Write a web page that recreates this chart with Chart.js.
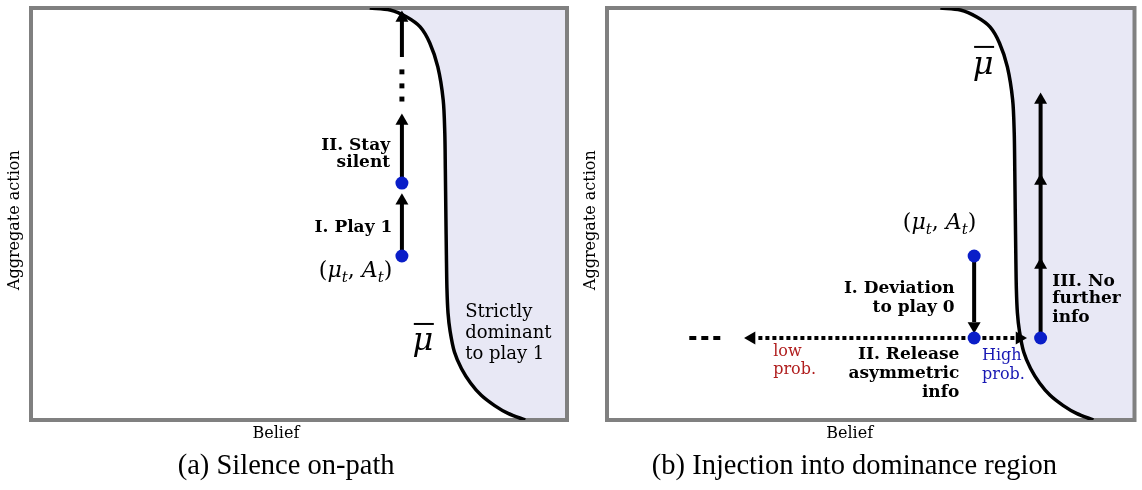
<!DOCTYPE html>
<html><head><meta charset="utf-8">
<script src="https://cdn.jsdelivr.net/npm/chart.js@4.4.0/dist/chart.umd.min.js"></script>
<style>
html,body{margin:0;padding:0;background:#fff;}
#wrap{position:relative;width:1142px;height:490px;overflow:hidden;}
canvas{position:absolute;top:0;}
#cA{left:0;} #cB{left:577px;}
</style></head><body>
<div id="wrap"><canvas id="cA" width="577" height="490"></canvas><canvas id="cB" width="565" height="490"></canvas></div>
<script>
// ---- data (belief on x, aggregate action on y, both 0..100) ----
// dominance boundary  mu-bar
const boundaryBelief = [63.2, 67.0, 70.1, 72.6, 74.4, 75.9, 76.9, 77.2, 77.3, 77.4, 77.5, 77.6, 77.8, 78.2, 79.0, 80.3, 82.0, 84.0, 86.5, 89.0, 92.2];
const boundaryAction = [100, 99.5, 97.8, 95.4, 91.5, 85.7, 77.7, 69.7, 61.0, 50.0, 40.0, 32.0, 26.0, 21.5, 16.5, 12.5, 9.0, 6.0, 3.5, 1.6, 0];

// panel (a): silence on-path
const aStateBelief = [69.2, 69.2];
const aStateAction = [39.8, 57.5];
const aShaftFrom = [39.8, 57.5, 88.1];
const aShaftTo = [53.4, 72.8, 97.6];
const aHeadAction = [53.2, 72.6, 97.6];
const aDotsAction = [84.5, 81.1, 77.9];

// panel (b): injection into dominance region
const bStateBelief = [69.6, 69.6, 82.2];
const bStateAction = [39.8, 19.9, 19.9];
const bShaftBelief = [[69.6, 69.6], [82.2, 82.2]];
const bShaftAction = [[39.8, 23.8], [19.9, 77.7]];
const bDottedBelief = [28.7, 77.5];
const bEllipsisBelief = [15.6, 21.8];
const bHeadBelief = [69.6, 78.2, 27.4, 82.2, 82.2, 82.2];
const bHeadAction = [22.8, 19.9, 19.9, 37.6, 58.0, 77.7];
const bHeadRotation = [180, 90, 270, 0, 0, 0];

// ---- styles ----
const SHADE = '#e8e8f5', FRAME = '#808080', INK = '#000000', DOT = '#0a1ec8';
const SERIF = '"DejaVu Serif"';
const zip = (xs, ys) => xs.map((x, i) => ({x, y: ys[i]}));
const boundary = zip(boundaryBelief, boundaryAction);

function baseDatasets() {
  return [
    {label: 'dominance', data: boundary.concat([{x: 100, y: 0}]), isShade: true, order: 20,
     borderWidth: 0, pointRadius: 0, fill: 'end', backgroundColor: SHADE, tension: 0.3},
    {label: 'mu-bar', data: boundary, order: 10, borderColor: INK, borderWidth: 3.5,
     pointRadius: 0, fill: false, tension: 0.3}
  ];
}
function segment(xs, ys, extra) {
  return Object.assign({data: zip(xs, ys), borderColor: INK, borderWidth: 4, pointRadius: 0,
    fill: false, tension: 0, clip: false, borderCapStyle: 'butt', order: 5}, extra || {});
}
function heads(xs, ys, rot) {
  return {data: zip(xs, ys), showLine: false, pointStyle: 'triangle', pointRadius: 7.5,
    pointRotation: rot, backgroundColor: INK, borderColor: INK, borderWidth: 0, clip: false, order: 3};
}
function states(xs, ys) {
  return {data: zip(xs, ys), showLine: false, pointStyle: 'circle', pointRadius: 6.5,
    backgroundColor: DOT, borderColor: DOT, borderWidth: 0, clip: false, order: 1};
}

// ---- text ----
const boldF = `bold 17px ${SERIF}`, regF = `18px ${SERIF}`, smallF = `16px ${SERIF}`;
function pairLabel(size) {
  return [
    {t: '(', font: `${size}px ${SERIF}`},
    {t: 'μ', font: `italic ${size}px ${SERIF}`},
    {t: 't', font: `italic ${Math.round(size * 0.68)}px ${SERIF}`, dy: 5},
    {t: ', ', font: `${size}px ${SERIF}`},
    {t: 'A', font: `italic ${size}px ${SERIF}`},
    {t: 't', font: `italic ${Math.round(size * 0.68)}px ${SERIF}`, dy: 5},
    {t: ')', font: `${size}px ${SERIF}`}
  ];
}
const aTexts = [
  {t: 'II. Stay', x: 67.0, y: 66.7, align: 'right', font: boldF},
  {t: 'silent', x: 67.0, y: 62.4, align: 'right', font: boldF},
  {t: 'I. Play 1', x: 67.4, y: 46.6, align: 'right', font: boldF},
  {rich: pairLabel(22), x: 67.4, y: 34.7, align: 'right'},
  {mubar: true, x: 73.1, y: 17.0, size: 32, bar: 26},
  {t: 'Strictly', x: 81.0, y: 26.2, align: 'left', font: regF},
  {t: 'dominant', x: 81.0, y: 21.1, align: 'left', font: regF},
  {t: 'to play 1', x: 81.0, y: 16.0, align: 'left', font: regF}
];
const bTexts = [
  {rich: pairLabel(22), x: 70.0, y: 46.4, align: 'right'},
  {t: 'I. Deviation', x: 65.9, y: 32.0, align: 'right', font: boldF},
  {t: 'to play 0', x: 65.9, y: 27.2, align: 'right', font: boldF},
  {t: 'II. Release', x: 66.8, y: 15.8, align: 'right', font: boldF},
  {t: 'asymmetric', x: 66.8, y: 11.2, align: 'right', font: boldF},
  {t: 'info', x: 66.8, y: 6.6, align: 'right', font: boldF},
  {t: 'low', x: 31.5, y: 16.5, align: 'left', font: smallF, color: '#b01e1e'},
  {t: 'prob.', x: 31.5, y: 12.1, align: 'left', font: smallF, color: '#b01e1e'},
  {t: 'High', x: 71.1, y: 15.5, align: 'left', font: smallF, color: '#1a1ab4'},
  {t: 'prob.', x: 71.1, y: 10.9, align: 'left', font: smallF, color: '#1a1ab4'},
  {t: 'III. No', x: 84.4, y: 33.7, align: 'left', font: boldF},
  {t: 'further', x: 84.4, y: 29.4, align: 'left', font: boldF},
  {t: 'info', x: 84.4, y: 24.8, align: 'left', font: boldF},
  {mubar: true, x: 71.3, y: 84.0, size: 32, bar: 27}
];

const diagramPlugin = {
  id: 'diagram',
  afterDatasetDraw(chart, args) {
    if (!chart.data.datasets[args.index].isShade) return;
    const {ctx, chartArea: a} = chart;
    ctx.save();
    ctx.strokeStyle = FRAME; ctx.lineWidth = 4;
    ctx.strokeRect(a.left, a.top, a.right - a.left, a.bottom - a.top);
    ctx.restore();
  },
  afterDraw(chart) {
    const o = chart.options.plugins.diagram;
    const {ctx, chartArea: a} = chart;
    const sx = chart.scales.x, sy = chart.scales.y;
    ctx.save();
    ctx.fillStyle = INK;
    o.texts.forEach(d => {
      const px = sx.getPixelForValue(d.x), py = sy.getPixelForValue(d.y);
      if (d.rich) {
        let w = 0;
        d.rich.forEach(s => { ctx.font = s.font; s.w = ctx.measureText(s.t).width; w += s.w; });
        let cx = d.align === 'right' ? px - w : px;
        ctx.textAlign = 'left'; ctx.textBaseline = 'alphabetic'; ctx.fillStyle = INK;
        d.rich.forEach(s => { ctx.font = s.font; ctx.fillText(s.t, cx, py + (s.dy || 0)); cx += s.w; });
      } else if (d.mubar) {
        ctx.font = `italic ${d.size}px ${SERIF}`;
        ctx.textAlign = 'center'; ctx.textBaseline = 'alphabetic'; ctx.fillStyle = INK;
        ctx.fillText('μ', px, py);
        ctx.beginPath(); ctx.lineWidth = 2; ctx.strokeStyle = INK;
        ctx.moveTo(px - 9, py - d.bar); ctx.lineTo(px + 11, py - d.bar); ctx.stroke();
      } else {
        ctx.font = d.font; ctx.fillStyle = d.color || INK;
        ctx.textAlign = d.align; ctx.textBaseline = 'middle';
        ctx.fillText(d.t, px, py);
      }
    });
    // axis titles and caption
    ctx.fillStyle = INK; ctx.textBaseline = 'middle'; ctx.textAlign = 'center';
    ctx.font = `16px ${SERIF}`;
    ctx.fillText(o.xTitle, sx.getPixelForValue(o.xTitleAt), a.bottom + 14);
    ctx.save();
    ctx.translate(a.left - 16, sy.getPixelForValue(o.yTitleAt));
    ctx.rotate(-Math.PI / 2);
    ctx.fillText(o.yTitle, 0, 0);
    ctx.restore();
    ctx.font = `28.5px "Liberation Serif"`;
    ctx.fillText(o.caption, sx.getPixelForValue(o.captionAt), a.bottom + 47);
    ctx.restore();
  }
};

function makeChart(id, datasets, padding, texts, caption, xTitleAt, captionAt) {
  return new Chart(document.getElementById(id), {
    type: 'line',
    data: {datasets},
    options: {
      responsive: false, animation: false, devicePixelRatio: 1,
      layout: {padding},
      scales: {
        x: {type: 'linear', min: 0, max: 100, display: false},
        y: {type: 'linear', min: 0, max: 100, display: false}
      },
      plugins: {
        legend: {display: false}, tooltip: {enabled: false},
        diagram: {texts, caption, xTitle: 'Belief', yTitle: 'Aggregate action',
                  xTitleAt, yTitleAt: 48.5, captionAt}
      }
    },
    plugins: [diagramPlugin]
  });
}

// panel (a)
const aSets = baseDatasets();
aShaftFrom.forEach((f, i) => aSets.push(segment([aStateBelief[0], aStateBelief[0]], [f, aShaftTo[i]])));
aSets.push(heads(aHeadAction.map(() => aStateBelief[0]), aHeadAction, aHeadAction.map(() => 0)));
aSets.push({data: zip(aDotsAction.map(() => aStateBelief[0]), aDotsAction), showLine: false,
  pointStyle: 'rect', pointRadius: 3.5, backgroundColor: INK, borderWidth: 0, clip: false, order: 4});
aSets.push(states(aStateBelief, aStateAction));
makeChart('cA', aSets, {left: 31, top: 8, right: 10, bottom: 70}, aTexts,
  '(a) Silence on-path', 45.7, 47.6);

// panel (b)
const bSets = baseDatasets();
bShaftBelief.forEach((xs, i) => bSets.push(segment(xs, bShaftAction[i])));
bSets.push(segment(bDottedBelief, [bStateAction[1], bStateAction[1]], {borderDash: [4, 3]}));
bSets.push(segment(bEllipsisBelief, [bStateAction[1], bStateAction[1]], {borderDash: [7, 5]}));
bSets.push(heads(bHeadBelief, bHeadAction, bHeadRotation));
bSets.push(states(bStateBelief, bStateAction));
makeChart('cB', bSets, {left: 30, top: 8, right: 2, bottom: 70}, bTexts,
  '(b) Injection into dominance region', 46.0, 46.9);
</script>
</body></html>
